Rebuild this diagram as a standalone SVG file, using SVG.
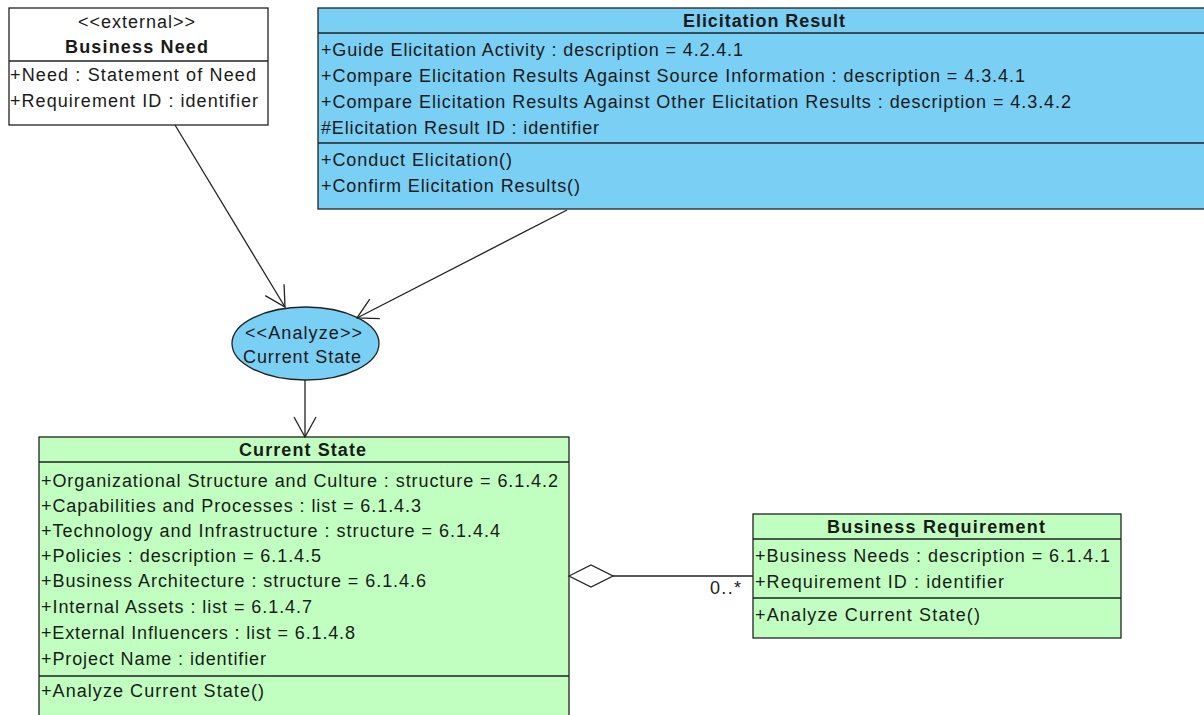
<svg xmlns="http://www.w3.org/2000/svg" width="1204" height="715" viewBox="0 0 1204 715">
<style>
.box{stroke:#222;stroke-width:1.3}
.blue{fill:#7ACFF4}
.green{fill:#C0FFC0}
.white{fill:#fff}
.sep{stroke:#222;stroke-width:1.3}
text{font-family:"Liberation Sans",Arial,sans-serif;font-size:18px;fill:#1a1a1a}
.b{font-weight:bold}
.conn{stroke:#222;stroke-width:1.3;fill:none}
</style>
<defs>
<marker id="open" viewBox="0 0 22 24" refX="21" refY="12" markerWidth="22" markerHeight="24" markerUnits="userSpaceOnUse" orient="auto">
<path d="M1,1 L21,12 L1,23" fill="none" stroke="#222" stroke-width="1.3"/>
</marker>
</defs>
<rect width="1204" height="715" fill="#fff"/>
<g id="business-need">
<rect class="box white" x="9" y="8" width="259" height="117"/>
<line class="sep" x1="9" y1="61" x2="268" y2="61"/>
<text x="78" y="28" textLength="117" lengthAdjust="spacing">&lt;&lt;external&gt;&gt;</text>
<text class="b" x="65" y="53" textLength="143" lengthAdjust="spacing">Business Need</text>
<text x="10" y="81" textLength="246" lengthAdjust="spacing">+Need : Statement of Need</text>
<text x="10" y="107" textLength="248" lengthAdjust="spacing">+Requirement ID : identifier</text>
</g>
<g id="elicitation-result">
<rect class="box blue" x="318" y="8" width="890" height="201"/>
<line class="sep" x1="318" y1="33" x2="1204" y2="33"/>
<line class="sep" x1="318" y1="143" x2="1204" y2="143"/>
<text class="b" x="683" y="27" textLength="162" lengthAdjust="spacing">Elicitation Result</text>
<text x="321" y="56" textLength="422" lengthAdjust="spacing">+Guide Elicitation Activity : description = 4.2.4.1</text>
<text x="321" y="82" textLength="704" lengthAdjust="spacing">+Compare Elicitation Results Against Source Information : description = 4.3.4.1</text>
<text x="321" y="108" textLength="750" lengthAdjust="spacing">+Compare Elicitation Results Against Other Elicitation Results : description = 4.3.4.2</text>
<text x="321" y="134" textLength="278" lengthAdjust="spacing">#Elicitation Result ID : identifier</text>
<text x="321" y="166" textLength="191" lengthAdjust="spacing">+Conduct Elicitation()</text>
<text x="321" y="192" textLength="259" lengthAdjust="spacing">+Confirm Elicitation Results()</text>
</g>
<g id="analyze-current-state">
<ellipse class="box blue" cx="305.5" cy="343.5" rx="73.5" ry="36.5"/>
<text x="245" y="339" textLength="117" lengthAdjust="spacing">&lt;&lt;Analyze&gt;&gt;</text>
<text x="243" y="363" textLength="118" lengthAdjust="spacing">Current State</text>
</g>
<g id="current-state">
<rect class="box green" x="39" y="437" width="530" height="290"/>
<line class="sep" x1="39" y1="462" x2="569" y2="462"/>
<line class="sep" x1="39" y1="676" x2="569" y2="676"/>
<text class="b" x="239" y="456" textLength="127" lengthAdjust="spacing">Current State</text>
<text x="41" y="487" textLength="517" lengthAdjust="spacing">+Organizational Structure and Culture : structure = 6.1.4.2</text>
<text x="41" y="512" textLength="380" lengthAdjust="spacing">+Capabilities and Processes : list = 6.1.4.3</text>
<text x="41" y="537" textLength="459" lengthAdjust="spacing">+Technology and Infrastructure : structure = 6.1.4.4</text>
<text x="41" y="562" textLength="280" lengthAdjust="spacing">+Policies : description = 6.1.4.5</text>
<text x="41" y="587" textLength="385" lengthAdjust="spacing">+Business Architecture : structure = 6.1.4.6</text>
<text x="41" y="613" textLength="271" lengthAdjust="spacing">+Internal Assets : list = 6.1.4.7</text>
<text x="41" y="639" textLength="314" lengthAdjust="spacing">+External Influencers : list = 6.1.4.8</text>
<text x="41" y="665" textLength="225" lengthAdjust="spacing">+Project Name : identifier</text>
<text x="41" y="697" textLength="223" lengthAdjust="spacing">+Analyze Current State()</text>
</g>
<g id="business-requirement">
<rect class="box green" x="753" y="514" width="368" height="124"/>
<line class="sep" x1="753" y1="539" x2="1121" y2="539"/>
<line class="sep" x1="753" y1="598" x2="1121" y2="598"/>
<text class="b" x="827" y="533" textLength="218" lengthAdjust="spacing">Business Requirement</text>
<text x="755" y="562" textLength="355" lengthAdjust="spacing">+Business Needs : description = 6.1.4.1</text>
<text x="755" y="588" textLength="249" lengthAdjust="spacing">+Requirement ID : identifier</text>
<text x="755" y="621" textLength="225" lengthAdjust="spacing">+Analyze Current State()</text>
</g>
<g id="connectors">
<line class="conn" x1="175" y1="125" x2="285" y2="307" marker-end="url(#open)"/>
<line class="conn" x1="567" y1="210" x2="357" y2="318" marker-end="url(#open)"/>
<line class="conn" x1="305" y1="380" x2="305" y2="437" marker-end="url(#open)"/>
<path class="conn" d="M569,576 L591,565 L613,576 L591,587 Z" fill="#fff"/>
<line class="conn" x1="613" y1="576" x2="753" y2="576"/>
<text x="710" y="594" textLength="31" lengthAdjust="spacing">0..*</text>
</g>
</svg>
